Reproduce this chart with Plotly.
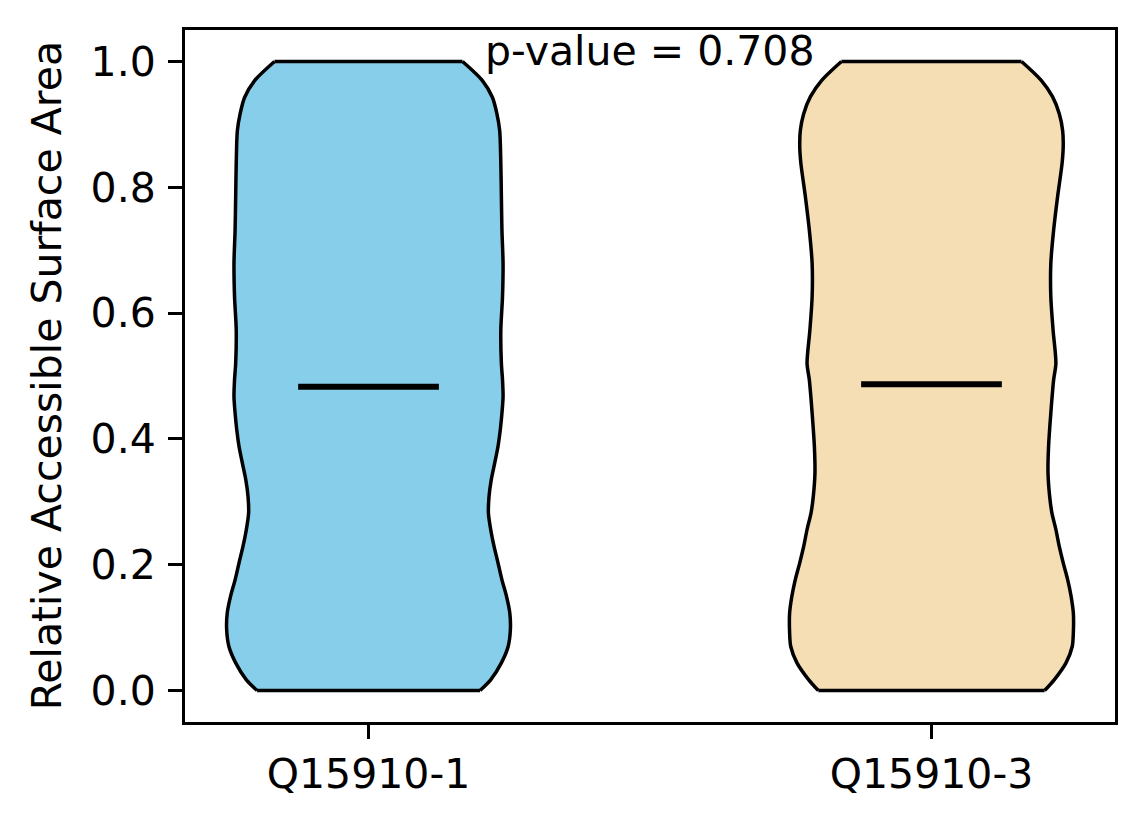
import numpy as np
import plotly.graph_objects as go

# groupes et positions
labels = ["Q15910-1", "Q15910-3"]
positions = [1, 2]
colors = ["#87CEEB", "#F5DEB3"]
means = [0.483, 0.487]
p_value = 0.708

# profils de densité (demi-largeur), du bas vers le haut
levels_1 = [0.000, 0.017, 0.044, 0.070, 0.097, 0.123, 0.150, 0.176, 0.203, 0.229,
            0.256, 0.282, 0.308, 0.335, 0.361, 0.388, 0.414, 0.441, 0.467, 0.494,
            0.520, 0.573, 0.626, 0.679, 0.732, 0.785, 0.838, 0.890, 0.917, 0.943,
            0.970, 1.000]
half_1 = [0.198, 0.217, 0.236, 0.248, 0.252, 0.251, 0.245, 0.237, 0.230, 0.223,
          0.217, 0.213, 0.214, 0.218, 0.224, 0.230, 0.234, 0.237, 0.239, 0.238,
          0.236, 0.235, 0.238, 0.239, 0.237, 0.236, 0.235, 0.233, 0.228, 0.220,
          0.202, 0.167]

levels_2 = [0.000, 0.017, 0.044, 0.070, 0.092, 0.123, 0.150, 0.176, 0.203, 0.229,
            0.256, 0.282, 0.308, 0.346, 0.388, 0.441, 0.494, 0.520, 0.573, 0.626,
            0.679, 0.732, 0.785, 0.838, 0.864, 0.890, 0.917, 0.944, 0.970, 1.000]
half_2 = [0.201, 0.218, 0.239, 0.250, 0.252, 0.252, 0.248, 0.242, 0.234, 0.227,
          0.221, 0.214, 0.210, 0.207, 0.208, 0.212, 0.217, 0.221, 0.216, 0.212,
          0.212, 0.217, 0.224, 0.232, 0.234, 0.233, 0.227, 0.215, 0.195, 0.160]

profiles = [(levels_1, half_1), (levels_2, half_2)]

FONT = "DejaVu Sans"
EDGE = dict(color="black", width=3.5)

fig = go.Figure()

for pos, (lv, hw), col in zip(positions, profiles, colors):
    lv = np.array(lv)
    hw = np.array(hw)
    # côté gauche puis côté droit, remplis entre eux (coins haut/bas restent nets)
    fig.add_trace(go.Scatter(x=pos - hw, y=lv, mode="lines",
                             line=dict(**EDGE, shape="spline", smoothing=0.8),
                             hoverinfo="skip", showlegend=False))
    fig.add_trace(go.Scatter(x=pos + hw, y=lv, mode="lines", fill="tonextx",
                             fillcolor=col,
                             line=dict(**EDGE, shape="spline", smoothing=0.8),
                             hoverinfo="skip", showlegend=False))
    # bords plats en bas et en haut
    for i in (0, -1):
        fig.add_trace(go.Scatter(x=[pos - hw[i], pos + hw[i]], y=[lv[i], lv[i]],
                                 mode="lines", line=EDGE,
                                 hoverinfo="skip", showlegend=False))

# lignes de moyenne
for pos, m in zip(positions, means):
    fig.add_trace(go.Scatter(x=[pos - 0.125, pos + 0.125], y=[m, m], mode="lines",
                             line=dict(color="black", width=6),
                             hoverinfo="skip", showlegend=False))

fig.add_annotation(x=1.5, y=1.016, xref="x", yref="y", text=f"p-value = {p_value}",
                   showarrow=False, xanchor="center", yanchor="middle",
                   font=dict(family=FONT, size=41, color="black"))

fig.add_annotation(x=-0.148, y=0.5, xref="paper", yref="paper",
                   text="Relative Accessible Surface Area", textangle=-90,
                   showarrow=False, xanchor="center", yanchor="middle",
                   font=dict(family=FONT, size=41, color="black"))

axis_style = dict(showgrid=False, zeroline=False, showline=True, linecolor="black",
                  linewidth=3, mirror=True, ticks="outside", ticklen=14, tickwidth=3,
                  tickcolor="black", tickfont=dict(family=FONT, size=41, color="black"))

fig.update_xaxes(range=[0.674, 2.326], tickvals=positions, ticktext=labels, **axis_style)
fig.update_yaxes(range=[-0.05, 1.05], tickvals=[0, 0.2, 0.4, 0.6, 0.8, 1.0],
                 tickformat=".1f", ticklabelstandoff=4, **axis_style)

# la page ajoute 8 px de marge en haut et à gauche du graphique
fig.update_layout(width=1136, height=816, plot_bgcolor="white", paper_bgcolor="white",
                  margin=dict(l=177, r=29, t=22, b=102), showlegend=False)

fig.write_html("out.html")
